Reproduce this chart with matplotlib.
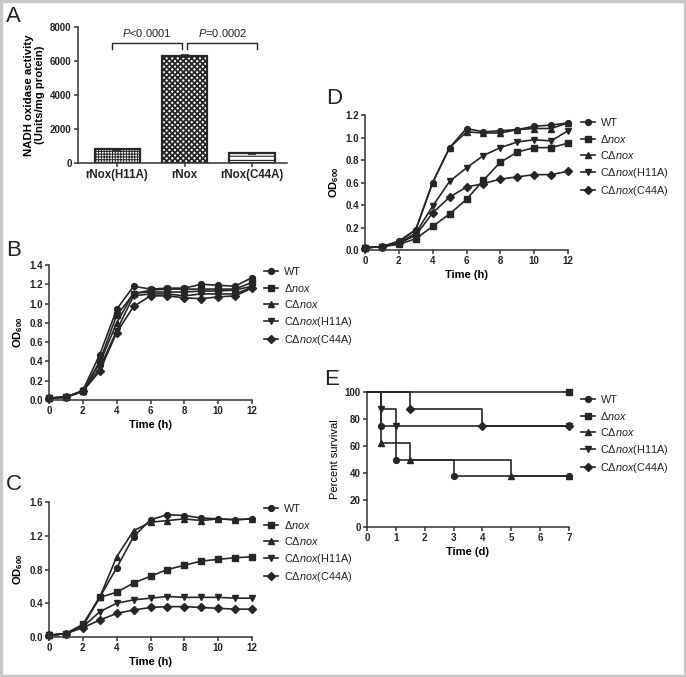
import matplotlib
matplotlib.use('Agg')
import matplotlib.pyplot as plt
from matplotlib.lines import Line2D
from matplotlib.patches import Rectangle

plt.rcParams['font.family'] = ['Liberation Sans', 'DejaVu Sans']
plt.rcParams['mathtext.fontset'] = 'custom'
plt.rcParams['mathtext.rm'] = 'Liberation Sans'
plt.rcParams['mathtext.it'] = 'Liberation Sans:italic'
plt.rcParams['mathtext.bf'] = 'Liberation Sans:bold'
plt.rcParams['hatch.linewidth'] = 0.8
plt.rcParams['hatch.color'] = '#222222'

# ---------------- data ----------------
enzymes = ['rNox(H11A)', 'rNox', 'rNox(C44A)']
activity = [800, 6300, 560]
activity_err = [40, 70, 30]
p_labels = [r'$\mathit{P}$<0.0001', r'$\mathit{P}$=0.0002']

hours = [0, 1, 2, 3, 4, 5, 6, 7, 8, 9, 10, 11, 12]
strain_labels = ['WT', r'Δ$\mathit{nox}$', r'CΔ$\mathit{nox}$',
                 r'CΔ$\mathit{nox}$(H11A)', r'CΔ$\mathit{nox}$(C44A)']

# panel B
b_wt    = [0.02, 0.03, 0.10, 0.47, 0.94, 1.18, 1.15, 1.16, 1.16, 1.20, 1.19, 1.18, 1.27]
b_dnox  = [0.02, 0.03, 0.09, 0.40, 0.88, 1.10, 1.14, 1.15, 1.15, 1.15, 1.15, 1.15, 1.22]
b_comp  = [0.02, 0.03, 0.09, 0.38, 0.80, 1.11, 1.12, 1.12, 1.12, 1.13, 1.13, 1.14, 1.18]
b_h11a  = [0.02, 0.03, 0.09, 0.33, 0.72, 1.08, 1.10, 1.10, 1.08, 1.10, 1.10, 1.10, 1.17]
b_c44a  = [0.02, 0.03, 0.09, 0.30, 0.70, 0.97, 1.08, 1.08, 1.06, 1.05, 1.07, 1.08, 1.16]

# panel C
c_wt    = [0.02, 0.04, 0.13, 0.47, 0.82, 1.19, 1.39, 1.45, 1.44, 1.41, 1.40, 1.39, 1.40]
c_dnox  = [0.02, 0.04, 0.15, 0.47, 0.53, 0.64, 0.72, 0.80, 0.85, 0.90, 0.92, 0.94, 0.95]
c_comp  = [0.02, 0.04, 0.14, 0.47, 0.95, 1.26, 1.36, 1.38, 1.40, 1.38, 1.40, 1.39, 1.40]
c_h11a  = [0.02, 0.04, 0.12, 0.30, 0.40, 0.44, 0.46, 0.48, 0.47, 0.47, 0.47, 0.46, 0.46]
c_c44a  = [0.02, 0.04, 0.11, 0.20, 0.28, 0.32, 0.35, 0.36, 0.36, 0.35, 0.34, 0.33, 0.33]

# panel D
d_wt    = [0.02, 0.03, 0.08, 0.18, 0.60, 0.91, 1.08, 1.05, 1.06, 1.07, 1.10, 1.11, 1.13]
d_dnox  = [0.02, 0.03, 0.05, 0.10, 0.21, 0.32, 0.45, 0.62, 0.78, 0.87, 0.91, 0.91, 0.95]
d_comp  = [0.02, 0.03, 0.07, 0.18, 0.60, 0.91, 1.05, 1.04, 1.04, 1.07, 1.08, 1.08, 1.13]
d_h11a  = [0.02, 0.03, 0.06, 0.15, 0.39, 0.61, 0.73, 0.84, 0.91, 0.96, 0.98, 0.97, 1.06]
d_c44a  = [0.02, 0.03, 0.06, 0.13, 0.33, 0.47, 0.56, 0.59, 0.63, 0.65, 0.67, 0.67, 0.70]

# panel E (Kaplan-Meier)
e_wt_t,   e_wt_s   = [0, 0.5, 1.0, 3.0, 7], [100, 75, 50, 37.5, 37.5]
e_dnox_t, e_dnox_s = [0, 7], [100, 100]
e_comp_t, e_comp_s = [0, 0.5, 1.5, 5.0, 7], [100, 62.5, 50, 37.5, 37.5]
e_h11a_t, e_h11a_s = [0, 0.5, 1.0, 7], [100, 87.5, 75, 75]
e_c44a_t, e_c44a_s = [0, 1.5, 4.0, 7], [100, 87.5, 75, 75]

markers = ['o', 's', '^', 'v', 'D']
msizes = [4.2, 4.2, 4.5, 4.5, 3.6]
INK = '#262626'

W, H = 686, 677
fig = plt.figure(figsize=(W / 100, H / 100), dpi=100)


def axes_px(x0, y0, x1, y1):
    return fig.add_axes([x0 / W, 1 - y1 / H, (x1 - x0) / W, (y1 - y0) / H])


def style(ax, fmt=None):
    for s in ['top', 'right']:
        ax.spines[s].set_visible(False)
    for s in ['left', 'bottom']:
        ax.spines[s].set_linewidth(1.1)
        ax.spines[s].set_color('#333333')
    ax.tick_params(direction='out', length=3, width=1.1, labelsize=7,
                   pad=1.5, color='#333333', labelcolor='#222222')
    if fmt:
        ax.yaxis.set_major_formatter(plt.FormatStrFormatter(fmt))
    for lbl in ax.get_xticklabels() + ax.get_yticklabels():
        lbl.set_fontweight('bold')


def legend_px(x, ytop):
    handles = [Line2D([], [], color=INK, lw=1.2, marker=m, ms=ms,
                      markerfacecolor=INK, markeredgecolor=INK)
               for m, ms in zip(markers, msizes)]
    fig.legend(handles, strain_labels, loc='upper left',
               bbox_to_anchor=(x / W, 1 - ytop / H), bbox_transform=fig.transFigure,
               frameon=False, fontsize=7.8, handlelength=1.3, handletextpad=0.5,
               labelspacing=0.42, borderpad=0, borderaxespad=0, labelcolor='#222222')


def panel_letter(x, y, s):
    fig.text(x / W, 1 - y / H, s, fontsize=16, ha='left', va='center', color='#222222')


def growth(ax, series, ymax, yticks):
    for vals, m, ms in zip(series, markers, msizes):
        ax.plot(hours, vals, color=INK, lw=1.2, marker=m, ms=ms,
                markerfacecolor=INK, markeredgecolor=INK, clip_on=False)
    ax.set_xlim(0, 12)
    ax.set_ylim(0, ymax)
    ax.set_xticks([0, 2, 4, 6, 8, 10, 12])
    ax.set_yticks(yticks)
    ax.set_xlabel('Time (h)', fontsize=8, fontweight='bold', labelpad=3)
    ax.set_ylabel(r'OD$_{\mathbf{600}}$', fontsize=8, fontweight='bold', labelpad=3)
    style(ax, '%.1f')


# ---------------- panel A ----------------
axA = axes_px(78, 27, 287, 163)
hatches = ['++++++', 'xxxxxx', '----']
hatch_lw = [0.7, 1.3, 0.8]
xs = [0, 1, 2]
for x, v, e, h, hl in zip(xs, activity, activity_err, hatches, hatch_lw):
    plt.rcParams['hatch.linewidth'] = hl
    axA.bar(x, v, width=0.67, color='white', edgecolor=INK, linewidth=1.6, hatch=h)
    axA.errorbar(x, v, yerr=e, color=INK, capsize=3, lw=1.2, capthick=1.2)
axA.set_xlim(-0.58, 2.52)
axA.set_ylim(0, 8000)
axA.set_yticks([0, 2000, 4000, 6000, 8000])
axA.set_xticks(xs)
axA.set_xticklabels(enzymes)
axA.set_ylabel('NADH oxidase activity\n(Units/mg protein)', fontsize=8.2,
               fontweight='bold', labelpad=4, linespacing=1.1)
style(axA)
for lbl in axA.get_xticklabels():
    lbl.set_fontsize(8.3)
# significance brackets
for (x0, x1), txt in zip([(-0.08, 0.96), (1.04, 2.08)], p_labels):
    axA.plot([x0, x0, x1, x1], [6720, 7060, 7060, 6720], color=INK, lw=1.0)
    axA.text((x0 + x1) / 2, 7300, txt, ha='center', va='bottom', fontsize=8, color='#222222')
panel_letter(6, 17, 'A')

# ---------------- panel B ----------------
axB = axes_px(49, 265, 252, 400)
growth(axB, [b_wt, b_dnox, b_comp, b_h11a, b_c44a], 1.4,
       [0.0, 0.2, 0.4, 0.6, 0.8, 1.0, 1.2, 1.4])
legend_px(264, 267)
panel_letter(6, 250, 'B')

# ---------------- panel C ----------------
axC = axes_px(49, 502, 252, 637)
growth(axC, [c_wt, c_dnox, c_comp, c_h11a, c_c44a], 1.6, [0.0, 0.4, 0.8, 1.2, 1.6])
legend_px(264, 504)
panel_letter(6, 485, 'C')

# ---------------- panel D ----------------
axD = axes_px(365, 115, 568, 250)
growth(axD, [d_wt, d_dnox, d_comp, d_h11a, d_c44a], 1.2,
       [0.0, 0.2, 0.4, 0.6, 0.8, 1.0, 1.2])
legend_px(581, 118)
panel_letter(326, 98, 'D')

# ---------------- panel E ----------------
axE = axes_px(367, 392, 569, 527)
for (t, s), m, ms in zip([(e_wt_t, e_wt_s), (e_dnox_t, e_dnox_s), (e_comp_t, e_comp_s),
                          (e_h11a_t, e_h11a_s), (e_c44a_t, e_c44a_s)], markers, msizes):
    axE.step(t, s, where='post', color=INK, lw=1.2, clip_on=False)
    axE.plot(t[1:], s[1:], ls='none', marker=m, ms=ms, color=INK, clip_on=False)
axE.set_xlim(0, 7)
axE.set_ylim(0, 100)
axE.set_xticks(range(8))
axE.set_yticks([0, 20, 40, 60, 80, 100])
axE.set_xlabel('Time (d)', fontsize=8, fontweight='bold', labelpad=3)
axE.set_ylabel('Percent survival', fontsize=8, labelpad=3)
style(axE)
legend_px(581, 395)
panel_letter(324, 380, 'E')

fig.patches.append(Rectangle((0.002, 0.002), 0.996, 0.996, transform=fig.transFigure,
                             fill=False, edgecolor='#c8c8c8', lw=2.5))

fig.savefig('out.png', dpi=100)
